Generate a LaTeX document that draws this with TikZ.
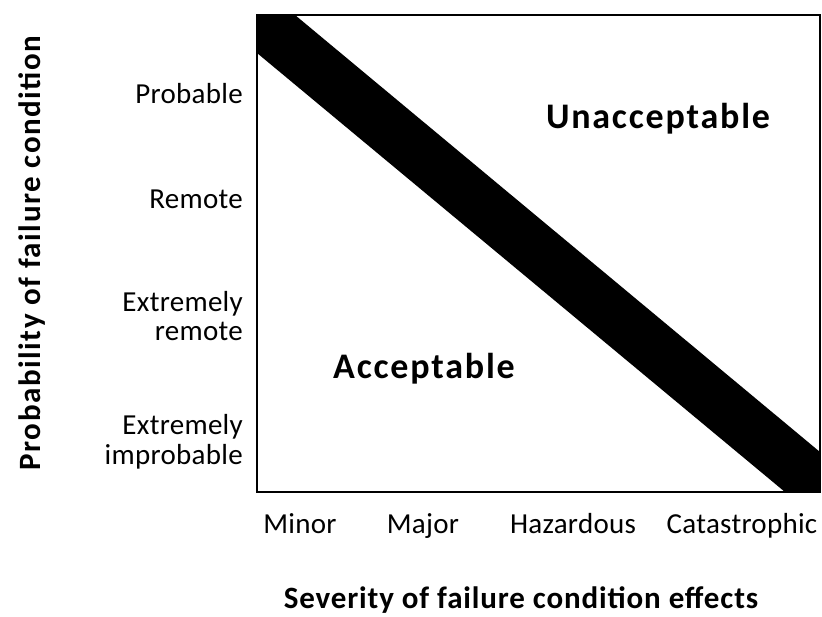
\documentclass[tikz,border=0pt]{standalone}
\usepackage{fontspec}
\setmainfont{Carlito}
\newfontfamily\tickfont[LetterSpace=1]{Carlito}
\newfontfamily\xaxisfont[LetterSpace=2.8]{Carlito}
\newfontfamily\yaxisfont[LetterSpace=5]{Carlito}
\newfontfamily\regionfont[LetterSpace=5]{Carlito}
\begin{document}
\begin{tikzpicture}[x=1pt,y=-1pt,
  lab/.style={font=\tickfont\fontsize{29}{29.5}\selectfont, inner sep=0pt},
  ylab/.style={lab, align=right, anchor=east},
  xlab/.style={lab, anchor=base},
  xbig/.style={font=\xaxisfont\bfseries\fontsize{31}{32}\selectfont, inner sep=0pt, anchor=base},
  ybig/.style={font=\yaxisfont\bfseries\fontsize{31}{32}\selectfont, inner sep=0pt, anchor=base},
  region/.style={font=\regionfont\bfseries\fontsize{36}{38}\selectfont, inner sep=0pt, anchor=base}]
\useasboundingbox (0,0) rectangle (822,616);
\coordinate (tl) at (257,15);
\coordinate (br) at (820,492);
\fill[black] (257,15) -- (295,15) -- (820,452) -- (820,492) -- (785,492) -- (257,53) -- cycle;
\draw[line width=2pt] (tl) rectangle (br);
\node[ylab] (p1) at (243,94) {Probable};
\node[ylab] (p2) at (243,199) {Remote};
\node[ylab] (p3) at (243,316) {Extremely\\remote};
\node[ylab] (p4) at (243,442) {Extremely\\improbable};
\node[xlab] (s1) at (300,533) {Minor};
\node[xlab] (s2) at (423,533) {Major};
\node[xlab] (s3) at (573,533) {Hazardous};
\node[xlab] (s4) at (742,533) {Catastrophic};
\node[region] (u) at (658,128) {Unacceptable};
\node[region] (a) at (424,378) {Acceptable};
\node[ybig, rotate=90] (yl) at (40,253) {Probability of failure condition};
\node[xbig] (xl) at (521,608) {Severity of failure condition effects};
\end{tikzpicture}
\end{document}
